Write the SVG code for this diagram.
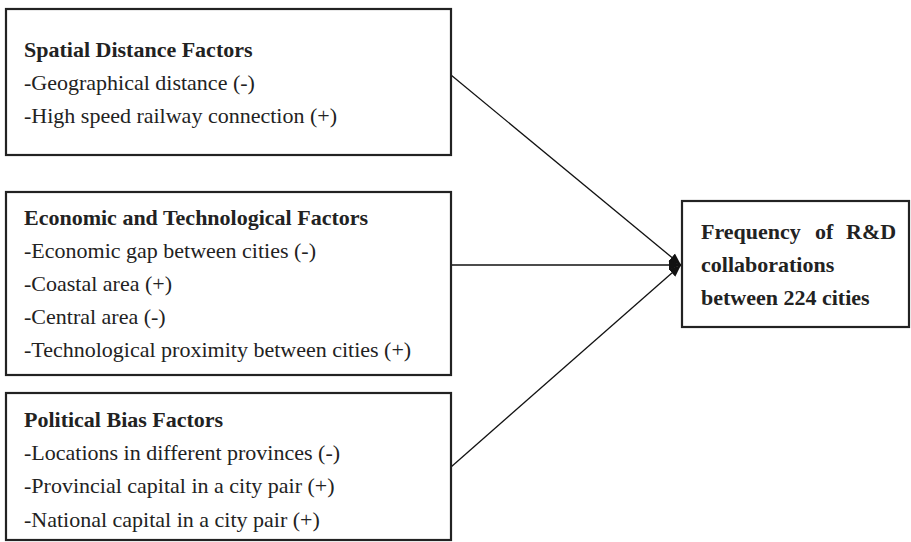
<svg xmlns="http://www.w3.org/2000/svg" width="911" height="542" viewBox="0 0 911 542">
<style>
.box{fill:#fff;stroke:#222;stroke-width:2.2}
.t{font-family:"Liberation Serif","Times New Roman",serif;font-size:22px;fill:#222}
.b{font-weight:bold}
.edge{stroke:#111;stroke-width:1.3;fill:none}
</style>
<defs>
<marker id="ah" viewBox="0 0 12 12" refX="12" refY="6" markerWidth="12" markerHeight="12" markerUnits="userSpaceOnUse" orient="auto">
<path d="M0,1 L12,6 L0,11 Z" fill="#111"/>
</marker>
</defs>
<g id="connectors">
<line class="edge" x1="451" y1="75" x2="681" y2="265" marker-end="url(#ah)"/>
<line class="edge" x1="451" y1="265" x2="681" y2="265" marker-end="url(#ah)"/>
<line class="edge" x1="451" y1="467" x2="681" y2="265" marker-end="url(#ah)"/>
</g>
<g id="spatial">
<rect class="box" x="6" y="9" width="445" height="146"/>
<text class="t b" x="24" y="57">Spatial Distance Factors</text>
<text class="t" x="24" y="90">-Geographical distance (-)</text>
<text class="t" x="24" y="123">-High speed railway connection (+)</text>
</g>
<g id="economic">
<rect class="box" x="6" y="192" width="445" height="183"/>
<text class="t b" x="24" y="225">Economic and Technological Factors</text>
<text class="t" x="24" y="258">-Economic gap between cities (-)</text>
<text class="t" x="24" y="291">-Coastal area (+)</text>
<text class="t" x="24" y="324">-Central area (-)</text>
<text class="t" x="24" y="357">-Technological proximity between cities (+)</text>
</g>
<g id="political">
<rect class="box" x="6" y="393" width="445" height="147"/>
<text class="t b" x="24" y="427">Political Bias Factors</text>
<text class="t" x="24" y="460">-Locations in different provinces (-)</text>
<text class="t" x="24" y="493">-Provincial capital in a city pair (+)</text>
<text class="t" x="24" y="527">-National capital in a city pair (+)</text>
</g>
<g id="frequency">
<rect class="box" x="682" y="201" width="227" height="126"/>
<text class="t b" x="701" y="239">Frequency</text>
<text class="t b" x="815" y="239">of</text>
<text class="t b" x="846" y="239">R&amp;D</text>
<text class="t b" x="701" y="272">collaborations</text>
<text class="t b" x="701" y="305">between 224 cities</text>
</g>
</svg>
